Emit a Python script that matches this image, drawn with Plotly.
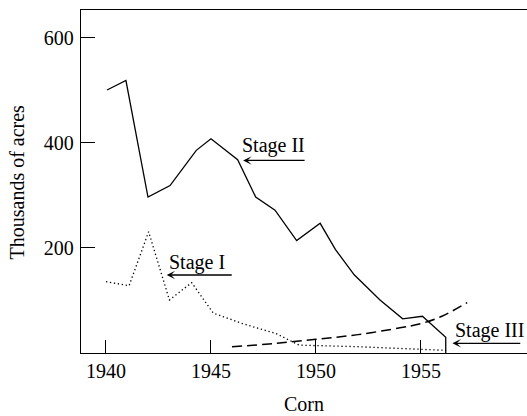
import plotly.graph_objects as go

# Stage II (solid)
stage2_year = [1940.05, 1940.95, 1942.0, 1943.05, 1944.3, 1945.0, 1946.27, 1947.13,
               1948.05, 1949.08, 1950.2, 1950.93, 1951.82, 1953.05, 1954.13, 1955.07,
               1956.18, 1956.18]
stage2_acres = [501, 519, 297, 319, 386, 408, 368, 297, 272, 214, 247, 197, 149, 101,
                65, 70, 30, 0]

# Stage I (dotted)
stage1_year = [1940.0, 1941.1, 1942.03, 1943.02, 1944.08, 1945.11, 1946.5, 1948.1,
               1949.2, 1952.0, 1956.2]
stage1_acres = [136, 128, 231, 101, 134, 76, 56, 37, 15, 12, 5]

# Stage III (dashed)
stage3_year = [1946.0, 1948.0, 1950.0, 1952.0, 1954.0, 1955.0, 1956.0, 1957.2]
stage3_acres = [12, 18, 26, 35, 48, 56, 70, 96]

x_ticks = [1940, 1945, 1950, 1955]
x_tick_labels = ["1940", "1945", "1950", "1955"]
y_ticks = [0, 200, 400, 600]
y_tick_labels = ["", "200", "400", "600"]

FONT = "Liberation Serif"

fig = go.Figure()
fig.add_trace(go.Scatter(x=stage2_year, y=stage2_acres, mode="lines",
                         line=dict(color="black", width=1.3), showlegend=False))
fig.add_trace(go.Scatter(x=stage1_year, y=stage1_acres, mode="lines",
                         line=dict(color="black", width=1.3, dash="1.3px,2.7px"),
                         showlegend=False))
fig.add_trace(go.Scatter(x=stage3_year, y=stage3_acres, mode="lines",
                         line=dict(color="black", width=1.5, dash="10px,5px", shape="spline"),
                         showlegend=False))

labels = [
    # text, text x, text y, arrow tip x, tail x, arrow y
    ("Stage II", 1947.96, 395, 1946.53, 1949.53, 366.7),
    ("Stage I", 1944.34, 173, 1942.89, 1946.06, 148.6),
    ("Stage III", 1958.25, 42.5, 1956.5, 1959.8, 18.5),
]
annotations = []
for txt, tx, ty, tip, tail, ay in labels:
    annotations.append(dict(x=tx, y=ty, xref="x", yref="y", text=txt, showarrow=False,
                            xanchor="center", yanchor="middle",
                            font=dict(family=FONT, size=20, color="black")))
    annotations.append(dict(x=tip, y=ay, ax=tail, ay=ay, xref="x", yref="y",
                            axref="x", ayref="y", text="", showarrow=True,
                            arrowhead=3, arrowsize=1.1, arrowwidth=1.3,
                            arrowcolor="black", standoff=0, startstandoff=0))

annotations.append(dict(x=-0.1435, y=0.5, xref="paper", yref="paper",
                        xanchor="center", yanchor="middle",
                        text="Thousands of acres", textangle=-90, showarrow=False,
                        font=dict(family=FONT, size=20, color="black")))
annotations.append(dict(x=0.5, y=-0.1487, xref="paper", yref="paper", text="Corn",
                        xanchor="center", yanchor="middle",
                        showarrow=False, font=dict(family=FONT, size=20, color="black")))

fig.update_layout(
    width=527, height=416,
    margin=dict(l=81, r=0, t=10, b=63),
    plot_bgcolor="white", paper_bgcolor="white",
    annotations=annotations,
    font=dict(family=FONT, size=20, color="black"),
)
fig.update_xaxes(range=[1938.81, 1960.05], tickvals=x_ticks, ticktext=x_tick_labels,
                 ticks="inside", ticklen=13, tickwidth=1.3, tickcolor="black",
                 showline=True, linecolor="black", linewidth=1.3, mirror=True,
                 showgrid=False, zeroline=False, ticklabelstandoff=0, automargin=False,
                 tickfont=dict(family=FONT, size=20, color="black"))
fig.update_yaxes(range=[0, 653.3], tickvals=y_ticks, ticktext=y_tick_labels,
                 ticks="inside", ticklen=14, tickwidth=1.3, tickcolor="black",
                 showline=True, linecolor="black", linewidth=1.3,
                 showgrid=False, zeroline=False, ticklabelstandoff=2, automargin=False,
                 tickfont=dict(family=FONT, size=20, color="black"))

fig.write_html("out.html", config={"displayModeBar": False},
               post_script="document.body.style.margin='0';document.body.style.overflow='hidden';")
